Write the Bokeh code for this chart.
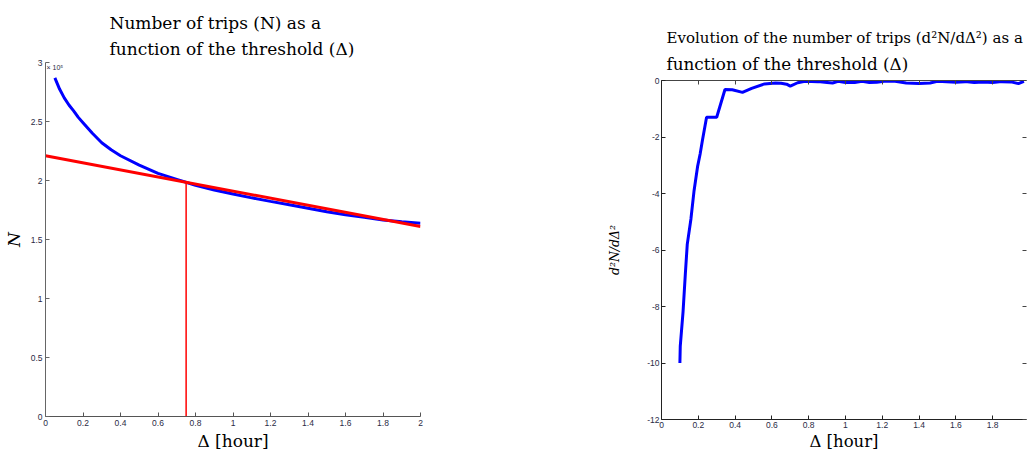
from bokeh.plotting import figure
from bokeh.models import Range1d, FixedTicker, LinearAxis, Label, Title, Spacer
from bokeh.layouts import row, column
from bokeh.embed import file_html
from bokeh.resources import INLINE

# ---------------- data ----------------
# Left panel: number of trips N (x 1e5) vs threshold Delta [hour]
delta_n = [0.05, 0.075, 0.10, 0.125, 0.15, 0.175, 0.20, 0.25, 0.30, 0.35, 0.40, 0.50, 0.60,
           0.70, 0.80, 0.90, 1.00, 1.10, 1.20, 1.30, 1.40, 1.50, 1.60, 1.70, 1.80, 1.90, 2.00]
trips_n = [2.87, 2.775, 2.70, 2.64, 2.59, 2.535, 2.49, 2.40, 2.32, 2.26, 2.21, 2.13, 2.06,
           2.01, 1.96, 1.92, 1.885, 1.853, 1.823, 1.795, 1.765, 1.735, 1.71, 1.688, 1.666,
           1.65, 1.637]
# tangent line (red) and chosen threshold
tangent_x = [0.0, 2.0]
tangent_y = [2.21, 1.61]
threshold = 0.75
threshold_n = 1.985

# Right panel: second derivative d2N/dDelta2
delta_d2 = [0.100, 0.102, 0.117, 0.130, 0.140, 0.160, 0.177, 0.196, 0.210, 0.223, 0.245,
            0.300, 0.345, 0.385, 0.440, 0.490, 0.560, 0.620, 0.650, 0.680, 0.700, 0.740,
            0.780, 0.850, 0.900, 0.930, 0.960, 1.000, 1.050, 1.090, 1.130, 1.170, 1.220,
            1.270, 1.330, 1.400, 1.460, 1.500, 1.550, 1.600, 1.650, 1.700, 1.750, 1.800,
            1.850, 1.900, 1.940, 1.970]
d2n = [-10.0, -9.4, -8.2, -6.8, -5.8, -4.9, -3.9, -3.05, -2.6, -2.1, -1.3,
       -1.3, -0.32, -0.33, -0.42, -0.28, -0.12, -0.09, -0.10, -0.13, -0.20, -0.08,
       -0.03, -0.04, -0.07, -0.09, -0.03, -0.07, -0.07, -0.03, -0.07, -0.06, -0.02,
       -0.03, -0.09, -0.11, -0.09, -0.03, -0.04, -0.06, -0.04, -0.07, -0.05, -0.07,
       -0.04, -0.05, -0.11, -0.03]

# tick labels
l_xticks = [0, 0.2, 0.4, 0.6, 0.8, 1, 1.2, 1.4, 1.6, 1.8, 2]
l_xlabels = ["0", "0.2", "0.4", "0.6", "0.8", "1", "1.2", "1.4", "1.6", "1.8", "2"]
l_yticks = [0, 0.5, 1, 1.5, 2, 2.5, 3]
l_ylabels = ["0", "0.5", "1", "1.5", "2", "2.5", "3"]
r_xticks = l_xticks
r_xlabels = l_xlabels
r_yticks = [-12, -10, -8, -6, -4, -2, 0]
r_ylabels = ["-12", "-10", "-8", "-6", "-4", "-2", "0"]

SERIF = "DejaVu Serif"
SANS = "Liberation Sans"
TICK_COLOR = "#2a2a45"


def style_axis(ax, ticks, labels, line_color):
    ax.ticker = FixedTicker(ticks=ticks)
    ax.major_label_overrides = {t: s for t, s in zip(ticks, labels)}
    ax.major_tick_in = 4
    ax.major_tick_out = 0
    ax.minor_tick_line_color = None
    ax.axis_line_color = line_color
    ax.major_tick_line_color = line_color
    ax.major_label_text_font = SANS
    ax.major_label_text_font_size = "8.5px"
    ax.major_label_text_color = TICK_COLOR
    ax.major_label_standoff = 3
    ax.axis_label_text_font = SERIF
    ax.axis_label_text_font_style = "normal"
    ax.axis_label_text_color = "black"


def add_title(p, text, size, offset, standoff):
    p.add_layout(Title(text=text, align="left", offset=offset, standoff=standoff,
                       text_font=SERIF, text_font_size=size, text_font_style="normal",
                       text_color="black"), "above")


# ---------------- left figure ----------------
LW, LH = 601, 453
L_LEFT, L_TOP, L_BOTTOM = 44, 62, 36
L_FW = 376
left = figure(width=LW, height=LH, x_range=Range1d(0, 2), y_range=Range1d(0, 3),
              title=None, output_backend="svg", toolbar_location=None,
              min_border_left=L_LEFT, min_border_right=LW - L_LEFT - L_FW,
              min_border_top=L_TOP, min_border_bottom=L_BOTTOM)
left.outline_line_color = None
left.grid.visible = False
style_axis(left.xaxis[0], l_xticks, l_xlabels, "#555555")
style_axis(left.yaxis[0], l_yticks, l_ylabels, "#666666")
left.xaxis[0].axis_label = "\u0394 [hour]"
left.xaxis[0].axis_label_text_font_size = "17px"
left.xaxis[0].axis_label_standoff = 2
left.yaxis[0].axis_label = "N"
left.yaxis[0].axis_label_text_font_size = "17px"
left.yaxis[0].axis_label_text_font_style = "italic"
left.yaxis[0].axis_label_standoff = 4

left.line(delta_n, trips_n, color="#0000ff", line_width=3)
left.line(tangent_x, tangent_y, color="#ff0000", line_width=3)
left.segment(x0=[threshold], y0=[0], x1=[threshold], y1=[threshold_n],
             color="#ff0000", line_width=1.5)

# titles: first added sits closest to the frame
add_title(left, "function of the threshold (\u0394)", "17px", 64, 7)
add_title(left, "Number of trips (N) as a", "17px", 64, 1)

left.add_layout(Label(x=0, y=2.985, text="\u00d7 10\u2075", text_font=SANS,
                      text_font_size="7px", text_color=TICK_COLOR,
                      text_align="left", text_baseline="top", x_offset=1))

# ---------------- right figure ----------------
SHIFT = 18
RW, RH = 1027 - LW, 453 - SHIFT
R_LEFT, R_TOP, R_BOTTOM = 60, 62, 33
R_XMAX = 1.984
right = figure(width=RW, height=RH, x_range=Range1d(0, R_XMAX), y_range=Range1d(-12, 0),
               title=None, output_backend="svg", toolbar_location=None,
               min_border_left=R_LEFT, min_border_right=1,
               min_border_top=R_TOP, min_border_bottom=R_BOTTOM)
right.outline_line_color = None
right.grid.visible = False
style_axis(right.xaxis[0], r_xticks, r_xlabels, "#222222")
style_axis(right.yaxis[0], r_yticks, r_ylabels, "#222222")
right.xaxis[0].axis_label = "\u0394 [hour]"
right.xaxis[0].axis_label_text_font_size = "16.5px"
right.xaxis[0].major_label_standoff = 2
right.xaxis[0].axis_label_standoff = 1
right.yaxis[0].axis_label = "d\u00b2N/d\u0394\u00b2"
right.yaxis[0].axis_label_text_font_size = "12.5px"
right.yaxis[0].axis_label_text_font_style = "italic"
right.yaxis[0].axis_label_standoff = 22
right.yaxis[0].major_label_standoff = 2

# box ticks (top and right), no labels
top_ax = LinearAxis()
style_axis(top_ax, r_xticks, ["" for _ in r_xticks], "#444444")
top_ax.major_label_standoff = 0
right.add_layout(top_ax, "above")

right_ax = LinearAxis()
style_axis(right_ax, r_yticks, ["" for _ in r_yticks], "#444444")
right_ax.axis_line_color = None
right_ax.major_label_standoff = 0
right.add_layout(right_ax, "right")

right.line(delta_d2, d2n, color="#0000ff", line_width=3)

add_title(right, "function of the threshold (\u0394)", "16.8px", 5, 14)
add_title(right, "Evolution of the number of trips (d\u00b2N/d\u0394\u00b2) as a", "15px", 5, -4)

layout = row(left, column(Spacer(height=SHIFT, width=RW), right))
open("out.html", "w").write(file_html(layout, INLINE))
